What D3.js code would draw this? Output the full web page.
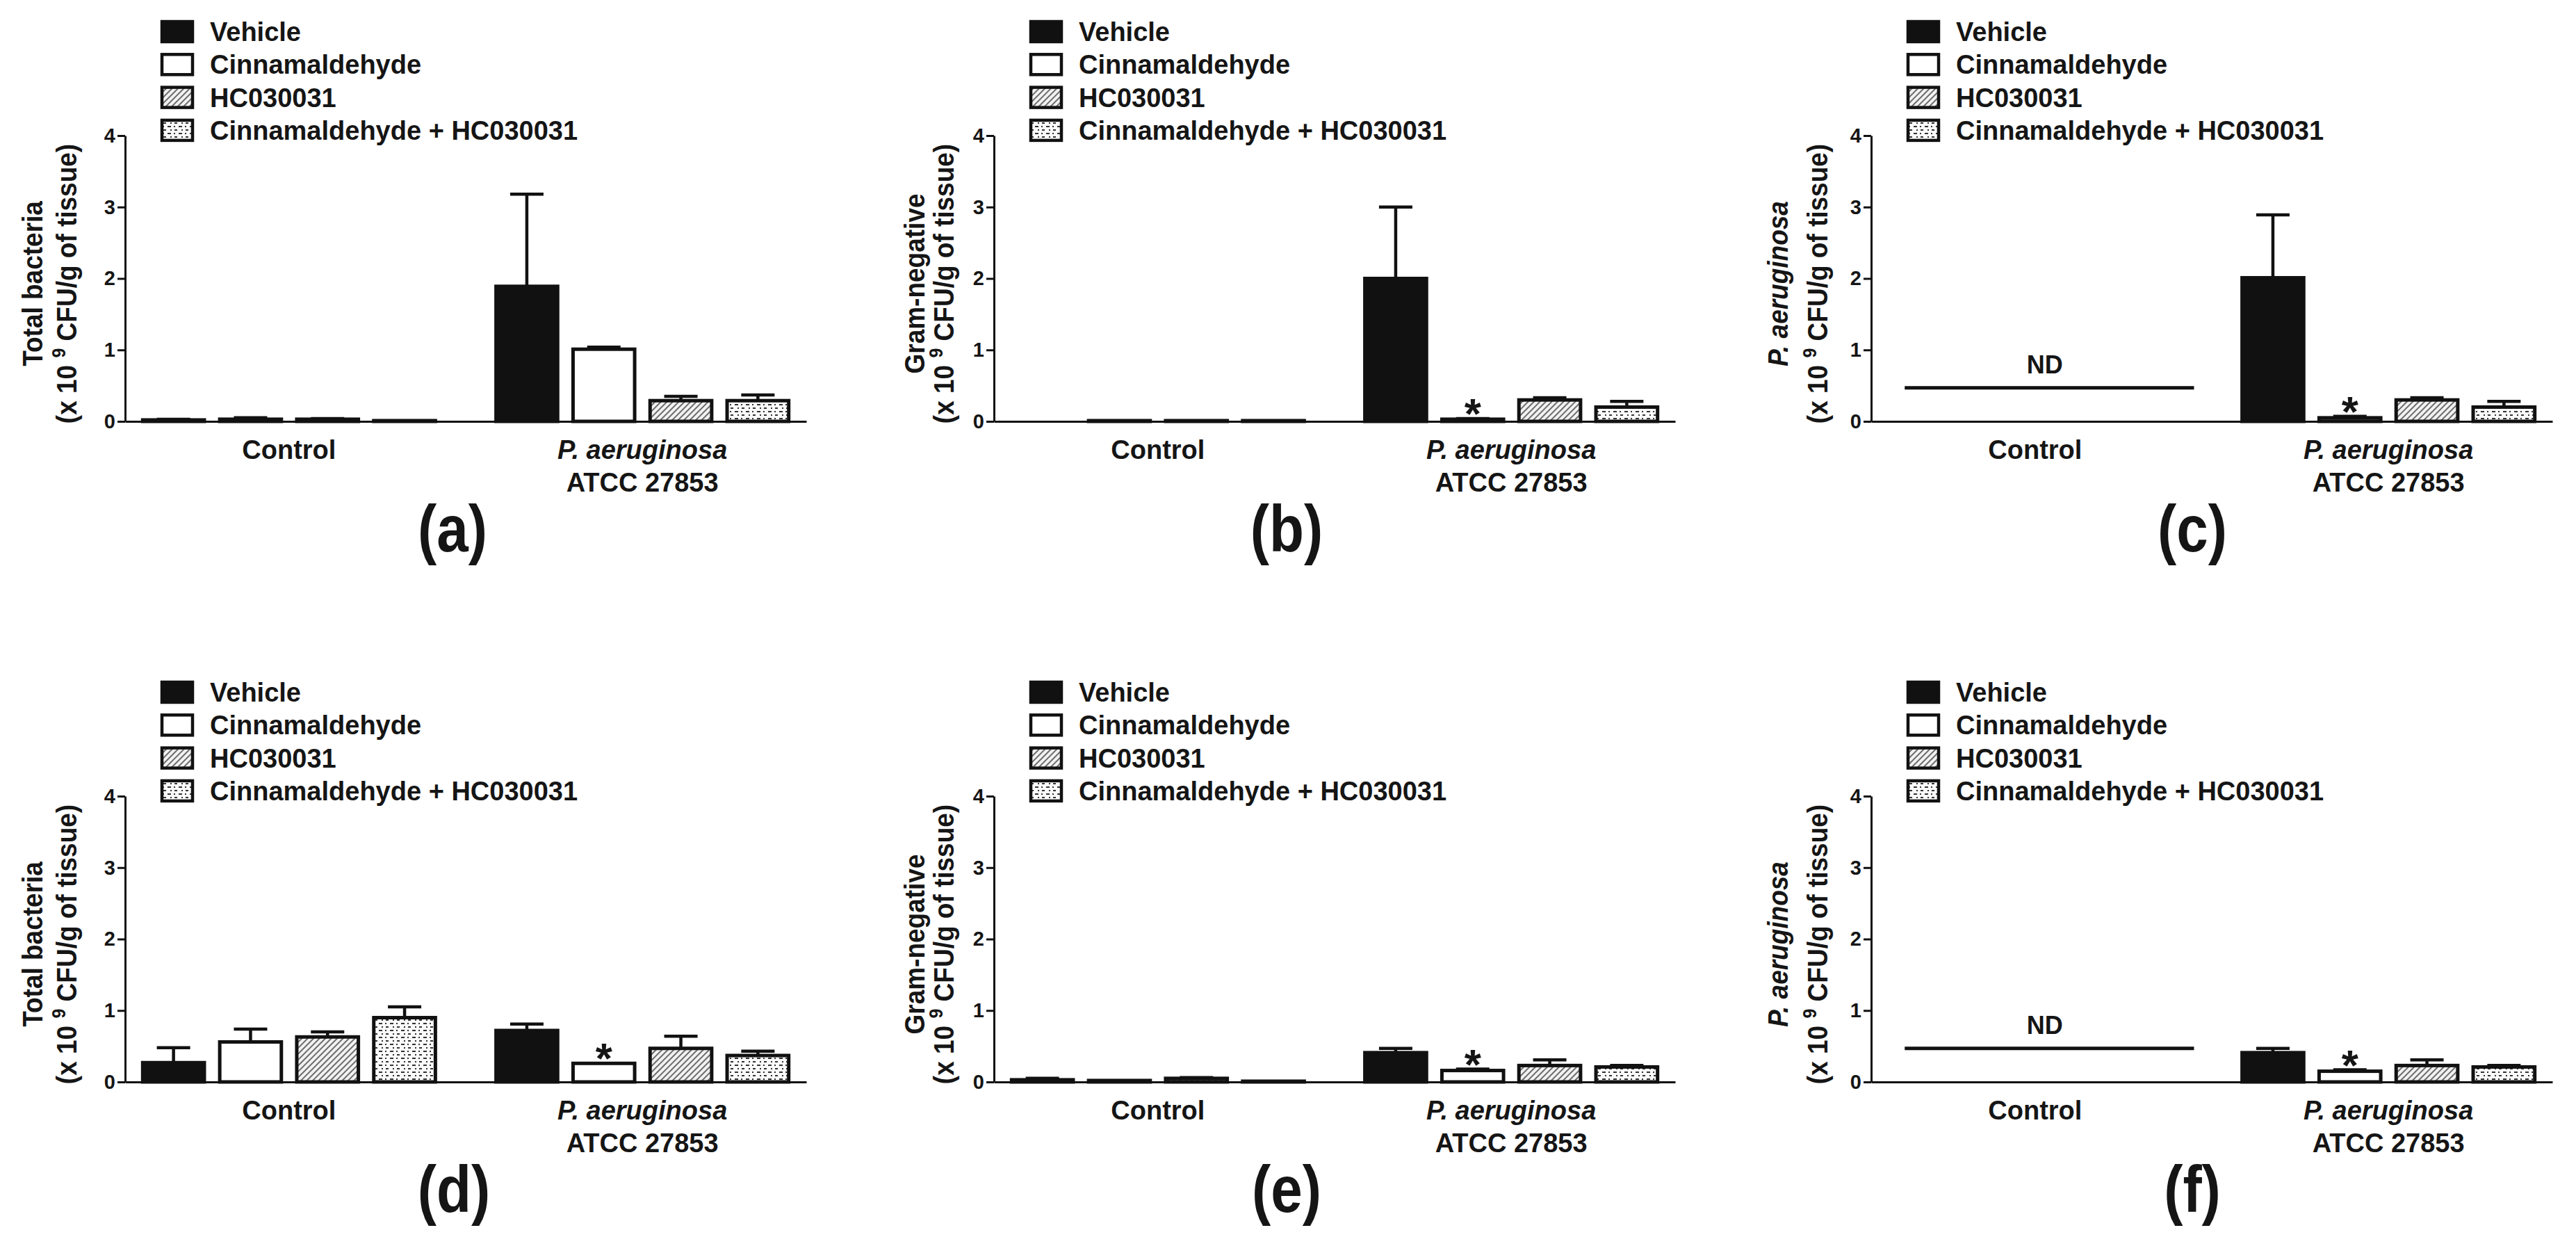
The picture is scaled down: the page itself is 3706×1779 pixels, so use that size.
<!DOCTYPE html>
<html>
<head>
<meta charset="utf-8">
<script src="https://cdn.jsdelivr.net/npm/d3@7"></script>
<style>
	body { margin: 0; background: #fff; }
	text { font-family: "Liberation Sans", Arial, sans-serif; font-weight: bold; fill: #151515; }
</style>
</head>
<body>
<svg id="fig"></svg>
<script>
// ---- data ----
const series = ['Vehicle', 'Cinnamaldehyde', 'HC030031', 'Cinnamaldehyde + HC030031']
const groups = ['Control', 'P. aeruginosa']
const groupSub = ['', 'ATCC 27853']
const yTicks = [0, 1, 2, 3, 4]
const letters = ['(a)', '(b)', '(c)', '(d)', '(e)', '(f)']
const yTitles = ['Total bacteria', 'Gram-negative', 'P. aeruginosa', 'Total bacteria', 'Gram-negative', 'P. aeruginosa']

// 8 bars per panel: Control x4 then P. aeruginosa x4 (null = not detected)
const meanA = [0.02, 0.03, 0.03, 0.01, 1.89, 1.01, 0.29, 0.29]
const semA = [0.01, 0.02, 0.01, 0, 1.29, 0.03, 0.06, 0.08]
const meanB = [0, 0.01, 0.01, 0.01, 2.0, 0.03, 0.3, 0.2]
const semB = [0, 0, 0, 0, 1.0, 0.01, 0.03, 0.08]
const meanC = [null, null, null, null, 2.01, 0.05, 0.3, 0.2]
const semC = [0, 0, 0, 0, 0.88, 0.02, 0.03, 0.08]
const meanD = [0.27, 0.56, 0.63, 0.9, 0.72, 0.26, 0.47, 0.37]
const semD = [0.21, 0.18, 0.07, 0.15, 0.09, 0, 0.17, 0.06]
const meanE = [0.03, 0.02, 0.05, 0.01, 0.41, 0.16, 0.23, 0.21]
const semE = [0.02, 0, 0.01, 0, 0.06, 0.02, 0.08, 0.02]
const meanF = [null, null, null, null, 0.41, 0.15, 0.23, 0.21]
const semF = [0, 0, 0, 0, 0.06, 0.02, 0.08, 0.02]
const ndValue = 0.47 //level of the ND line
const starBar = 5 //P. aeruginosa / Cinnamaldehyde
const starPanels = [false, true, true, true, true, true]

// ---- layout ----
const W = 3706, H = 1779
const svg = d3.select('#fig').attr('width', W).attr('height', H)

const panels = [
	{ x0: 180, top: 0, mean: meanA, sem: semA, t1: -119, t2: -70, lx: 651 },
	{ x0: 1430, top: 0, mean: meanB, sem: semB, t1: -100, t2: -58, lx: 1851 },
	{ x0: 2692, top: 0, mean: meanC, sem: semC, t1: -120, t2: -63, lx: 3154 },
	{ x0: 180, top: 950, mean: meanD, sem: semD, t1: -119, t2: -70, lx: 653 },
	{ x0: 1430, top: 950, mean: meanE, sem: semE, t1: -100, t2: -58, lx: 1851 },
	{ x0: 2692, top: 950, mean: meanF, sem: semF, t1: -120, t2: -63, lx: 3154 },
]

// fill patterns
const defs = svg.append('defs')
const hatch = defs.append('pattern')
	.attr('id', 'hatch')
	.attr('patternUnits', 'userSpaceOnUse')
	.attr('width', 6).attr('height', 6)
	.attr('patternTransform', 'rotate(45)')
hatch.append('rect').attr('width', 6).attr('height', 6).attr('fill', '#f2f2f2')
hatch.append('line').attr('x1', 1).attr('y1', 0).attr('x2', 1).attr('y2', 6)
	.attr('stroke', '#4a4a4a').attr('stroke-width', 1.6)

const dots = defs.append('pattern')
	.attr('id', 'dots')
	.attr('patternUnits', 'userSpaceOnUse')
	.attr('width', 16).attr('height', 10)
dots.append('rect').attr('width', 16).attr('height', 10).attr('fill', '#fafafa')
const dotCells = [[1, 1, 5, 2], [10, 1, 2, 2], [5, 6, 2, 2], [11, 6, 4, 2]]
dots.selectAll('rect.d')
	.data(dotCells)
	.enter()
	.append('rect')
	.attr('class', 'd')
	.attr('x', d => d[0]).attr('y', d => d[1])
	.attr('width', d => d[2]).attr('height', d => d[3])
	.attr('fill', '#333')

const fills = {
	'Vehicle': '#111',
	'Cinnamaldehyde': '#fff',
	'HC030031': 'url(#hatch)',
	'Cinnamaldehyde + HC030031': 'url(#dots)',
}

panels.forEach(function (p, pi) {
	const g = svg.append('g')

	const y = d3.scaleLinear().domain([0, 4]).range([p.top + 606, p.top + 195])
	const xGroup = d3.scaleBand()
		.domain(groups)
		.range([p.x0, p.x0 + 980])
		.paddingInner(0.128)
		.paddingOuter(0.028)
	const xBar = d3.scaleBand()
		.domain(series)
		.range([0, xGroup.bandwidth()])
		.paddingInner(0.2)
		.paddingOuter(0.1)

	const bars = p.mean.map(function (m, i) {
		return {
			group: groups[Math.floor(i / 4)],
			s: series[i % 4],
			mean: m,
			sem: p.sem[i],
			i: i,
		}
	})
	const shown = bars.filter(d => d.mean !== null)

	// bars
	g.selectAll('rect.bar')
		.data(shown)
		.enter()
		.append('rect')
		.attr('class', 'bar')
		.attr('x', d => xGroup(d.group) + xBar(d.s))
		.attr('y', d => y(d.mean))
		.attr('width', xBar.bandwidth())
		.attr('height', d => y(0) - y(d.mean))
		.attr('fill', d => fills[d.s])
		.attr('stroke', '#111')
		.attr('stroke-width', 5)

	// error bars (upper only)
	const errs = shown.filter(d => d.sem > 0)
	const cx = d => xGroup(d.group) + xBar(d.s) + xBar.bandwidth() / 2
	g.selectAll('line.err')
		.data(errs)
		.enter()
		.append('line')
		.attr('x1', cx).attr('x2', cx)
		.attr('y1', d => y(d.mean))
		.attr('y2', d => y(d.mean + d.sem))
		.attr('stroke', '#111')
		.attr('stroke-width', 4.5)
	g.selectAll('line.cap')
		.data(errs)
		.enter()
		.append('line')
		.attr('x1', d => cx(d) - 24).attr('x2', d => cx(d) + 24)
		.attr('y1', d => y(d.mean + d.sem))
		.attr('y2', d => y(d.mean + d.sem))
		.attr('stroke', '#111')
		.attr('stroke-width', 4.5)

	// significance
	if (starPanels[pi]) {
		const d = bars[starBar]
		g.append('text')
			.attr('x', cx(d))
			.attr('y', y(d.mean + d.sem) + 14)
			.attr('text-anchor', 'middle')
			.style('font-size', '62px')
			.text('*')
	}

	// not detected
	if (p.mean[0] === null) {
		const gx = xGroup(groups[0])
		g.append('line')
			.attr('x1', gx + 34).attr('x2', gx + xGroup.bandwidth() + 7)
			.attr('y1', y(ndValue)).attr('y2', y(ndValue))
			.attr('stroke', '#111')
			.attr('stroke-width', 5)
		g.append('text')
			.attr('x', gx + xGroup.bandwidth() / 2 + 14)
			.attr('y', y(ndValue) - 21)
			.attr('text-anchor', 'middle')
			.style('font-size', '36px')
			.text('ND')
	}

	// axes
	const yAxis = d3.axisLeft(y)
		.tickValues(yTicks)
		.tickFormat(d3.format('d'))
		.tickSize(11)
		.tickSizeOuter(0)
		.tickPadding(3)
	const ya = g.append('g').attr('transform', 'translate(' + p.x0 + ',0)').call(yAxis)
	ya.select('.domain').attr('stroke', '#111').attr('stroke-width', 3)
	ya.selectAll('.tick line').attr('stroke', '#111').attr('stroke-width', 3)
	ya.selectAll('.tick text')
		.attr('fill', '#151515')
		.style('font-size', '29px')
		.style('font-family', '"Liberation Sans", Arial, sans-serif')
		.style('font-weight', 'bold')

	const xAxis = d3.axisBottom(xGroup).tickSize(0).tickSizeOuter(0).tickFormat('')
	const xa = g.append('g').attr('transform', 'translate(0,' + y(0) + ')').call(xAxis)
	xa.select('.domain').attr('stroke', '#111').attr('stroke-width', 3)

	// group labels
	groups.forEach(function (gr, gi) {
		const mx = xGroup(gr) + xGroup.bandwidth() / 2
		g.append('text')
			.attr('x', mx)
			.attr('y', p.top + 660)
			.attr('text-anchor', 'middle')
			.style('font-size', '38px')
			.style('font-style', gi === 1 ? 'italic' : 'normal')
			.text(gr)
		if (groupSub[gi]) {
			g.append('text')
				.attr('x', mx)
				.attr('y', p.top + 707)
				.attr('text-anchor', 'middle')
				.style('font-size', '38px')
				.text(groupSub[gi])
		}
	})

	// y title, two rotated lines (glyphs a little wider than tall, as in the figure)
	const cy = p.top + 408
	g.append('text')
		.attr('transform', 'translate(' + (p.x0 + p.t1) + ',' + cy + ') rotate(-90) scale(1,1.12)')
		.attr('text-anchor', 'middle')
		.style('font-size', '37px')
		.style('font-style', yTitles[pi] === 'P. aeruginosa' ? 'italic' : 'normal')
		.text(yTitles[pi])
	const t2 = g.append('text')
		.attr('transform', 'translate(' + (p.x0 + p.t2) + ',' + cy + ') rotate(-90) scale(1,1.12)')
		.attr('text-anchor', 'middle')
		.style('font-size', '37px')
	t2.append('tspan').text('(x 10 ')
	t2.append('tspan').attr('dy', -14).style('font-size', '25px').text('9')
	t2.append('tspan').attr('dy', 14).text(' CFU/g of tissue)')

	// legend
	const lg = g.append('g')
	series.forEach(function (s, k) {
		lg.append('rect')
			.attr('x', p.x0 + 53)
			.attr('y', p.top + 31 + 47.3 * k)
			.attr('width', 44)
			.attr('height', 29)
			.attr('fill', fills[s])
			.attr('stroke', '#111')
			.attr('stroke-width', 4.5)
		lg.append('text')
			.attr('x', p.x0 + 122)
			.attr('y', p.top + 59 + 47.3 * k)
			.style('font-size', '38px')
			.text(s)
	})

	// panel letter (tall, slightly narrow)
	g.append('text')
		.attr('transform', 'translate(' + p.lx + ',' + (p.top + 793) + ') scale(0.87,1)')
		.attr('text-anchor', 'middle')
		.style('font-size', '94px')
		.text(letters[pi])
})
</script>
</body>
</html>
